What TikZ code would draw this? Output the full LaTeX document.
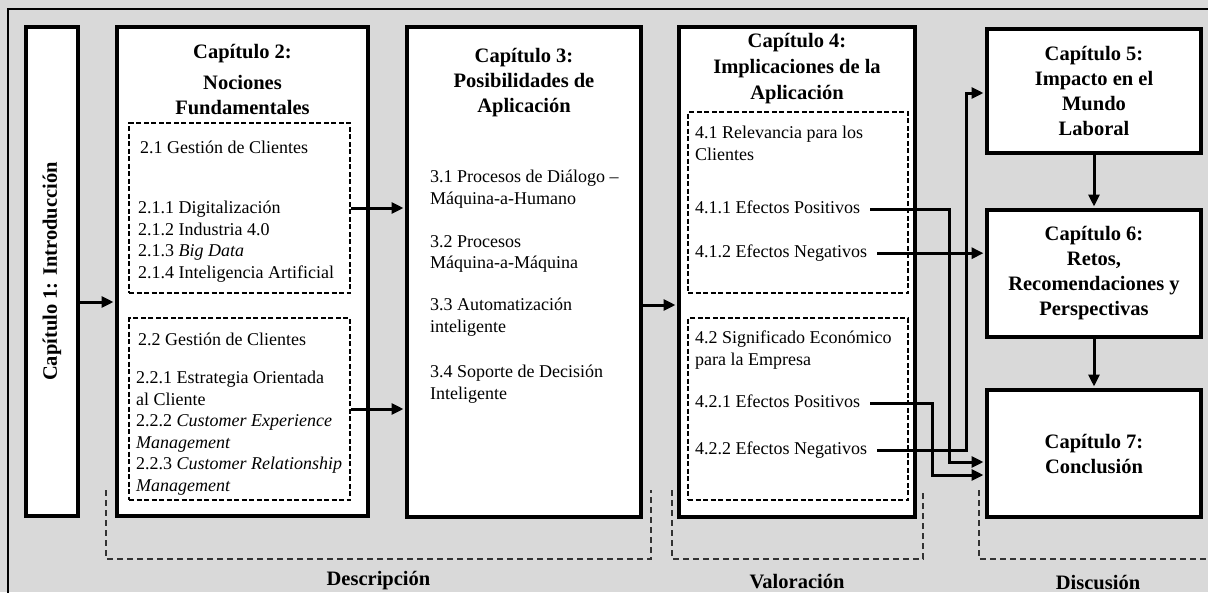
\documentclass[tikz,border=0pt]{standalone}
\usepackage{fontspec}
\setmainfont{Liberation Serif}
\usetikzlibrary{arrows.meta}
\definecolor{bggray}{RGB}{217,217,217}
\newcommand{\bodyfont}{\fontsize{18}{21.5}\selectfont}
\newcommand{\headfont}{\fontsize{20.5}{25}\selectfont\bfseries}
\tikzset{
  chapter/.style={draw, line width=4pt, fill=white, inner sep=0pt},
  section/.style={draw, line width=1.5pt, dash pattern=on 5pt off 2.5pt, inner sep=0pt},
  heading/.style={font=\headfont, align=center, inner sep=0pt},
  item/.style={font=\bodyfont, align=left, anchor=north west, inner sep=0pt},
  effect/.style={item, text height=12pt, text depth=4pt},
  arrow/.style={line width=3pt, -{Triangle[length=12pt,width=11pt]}, shorten >=1.5pt},
  phase/.style={draw=black!80, line width=1.2pt, dash pattern=on 6pt off 4pt},
}

\begin{document}
\begin{tikzpicture}[x=1pt, y=-1pt]
  % Draw the grey panel
  \clip (0,0) rectangle (1208,592);
  \fill[bggray] (0,0) rectangle (1208,592);
  \draw[line width=1.5pt] (8,9) rectangle (1230,620);

  % Draw the chapter boxes
  \node[chapter, minimum width=52pt, minimum height=489pt] (ch1) at (52,271.5) {};
  \node[chapter, minimum width=251pt, minimum height=489pt] (ch2) at (242.5,271.5) {};
  \node[chapter, minimum width=234pt, minimum height=490pt] (ch3) at (524,272) {};
  \node[chapter, minimum width=236pt, minimum height=490pt] (ch4) at (797,272) {};
  \node[chapter, minimum width=214pt, minimum height=124pt] (ch5) at (1094,91) {};
  \node[chapter, minimum width=214pt, minimum height=127pt] (ch6) at (1094,273.5) {};
  \node[chapter, minimum width=214pt, minimum height=127pt] (ch7) at (1094,453.5) {};

  % Draw the dashed section boxes
  \node[section, minimum width=221pt, minimum height=170pt] (b21) at (239.5,208) {};
  \node[section, minimum width=221pt, minimum height=182pt] (b22) at (239.5,409) {};
  \node[section, minimum width=220pt, minimum height=181pt] (b41) at (798,202.5) {};
  \node[section, minimum width=220pt, minimum height=182pt] (b42) at (798,409) {};

  % Chapter titles
  \node[heading, rotate=90] (h1) at (ch1.center) {Capítulo 1: Introducción};
  \node[heading, anchor=north] (h2) at (242.5,44) {Capítulo 2:\\[6pt]Nociones\\Fundamentales};
  \node[heading] (h3) at (524,83) {Capítulo 3:\\Posibilidades de\\Aplicación};
  \node[heading] (h4) at (797,69) {Capítulo 4:\\[1pt]Implicaciones de la\\[1pt]Aplicación};
  \node[heading] (h5) at (ch5.center) {Capítulo 5:\\Impacto en el\\Mundo\\Laboral};
  \node[heading] (h6) at (ch6.center) {Capítulo 6:\\Retos,\\Recomendaciones y\\Perspectivas};
  \node[heading] (h7) at (ch7.center) {Capítulo 7:\\Conclusión};

  % Sections of chapter 2
  \node[item] (i21) at (140,141) {2.1 Gestión de Clientes};
  \node[item] (i21list) at (138,201) {2.1.1 Digitalización\\2.1.2 Industria 4.0\\2.1.3 \textit{Big Data}\\2.1.4 Inteligencia Artificial};
  \node[item] (i22) at (138,333) {2.2 Gestión de Clientes};
  \node[item] (i22list) at (136,371) {2.2.1 Estrategia Orientada\\al Cliente\\2.2.2 \textit{Customer Experience}\\\textit{Management}\\2.2.3 \textit{Customer Relationship}\\\textit{Management}};

  % Sections of chapter 3
  \node[item] (i31) at (430,170) {3.1 Procesos de Diálogo –\\Máquina-a-Humano};
  \node[item] (i32) at (430,235) {3.2 Procesos\\Máquina-a-Máquina};
  \node[item] (i33) at (430,298) {3.3 Automatización\\inteligente};
  \node[item] (i34) at (430,365) {3.4 Soporte de Decisión\\Inteligente};

  % Sections of chapter 4
  \node[item] (i41) at (695,126) {4.1 Relevancia para los\\Clientes};
  \node[effect] (t411) at (695,201) {4.1.1 Efectos Positivos};
  \node[effect] (t412) at (695,245) {4.1.2 Efectos Negativos};
  \node[item] (i42) at (695,331) {4.2 Significado Económico\\para la Empresa};
  \node[effect] (t421) at (695,395) {4.2.1 Efectos Positivos};
  \node[effect] (t422) at (695,442) {4.2.2 Efectos Negativos};

  % Draw the flow between chapters
  \draw[arrow] ([yshift=-30.5pt]ch1.east) -- ([yshift=-30.5pt]ch2.west);
  \draw[arrow] (b21.east) -- (b21.east -| ch3.west);
  \draw[arrow] (b22.east) -- (b22.east -| ch3.west);
  \draw[arrow] ([yshift=-33pt]ch3.east) -- ([yshift=-33pt]ch4.west);
  \draw[arrow] (ch5) -- (ch6);
  \draw[arrow] (ch6) -- (ch7);

  % Draw the effects going to chapters 5, 6 and 7
  \coordinate (k411) at (949,462);
  \coordinate (k421) at (932,475);
  \coordinate (k422) at (966,93);
  \draw[arrow, shorten <=10pt] (t411.east) -| (k411) -- (k411 -| ch7.west);
  \draw[arrow, shorten <=10pt] (t412.east) -- (t412.east -| ch6.west);
  \draw[arrow, shorten <=10pt] (t421.east) -| (k421) -- (k421 -| ch7.west);
  \draw[arrow, shorten <=10pt] (t422.east) -| (k422) -- (k422 -| ch5.west);

  % Draw the phase brackets
  \draw[phase] (106,490) |- (651,559) -- (651,490);
  \draw[phase] (672,490) |- (923,559) -- (923,490);
  \draw[phase] (979,490) |- (1230,559);
  \node[heading] (desc) at (378.5,581) {Descripción};
  \node[heading] (val) at (797,582) {Valoración};
  \node[heading] (disc) at (1098,582) {Discusión};
\end{tikzpicture}
\end{document}
